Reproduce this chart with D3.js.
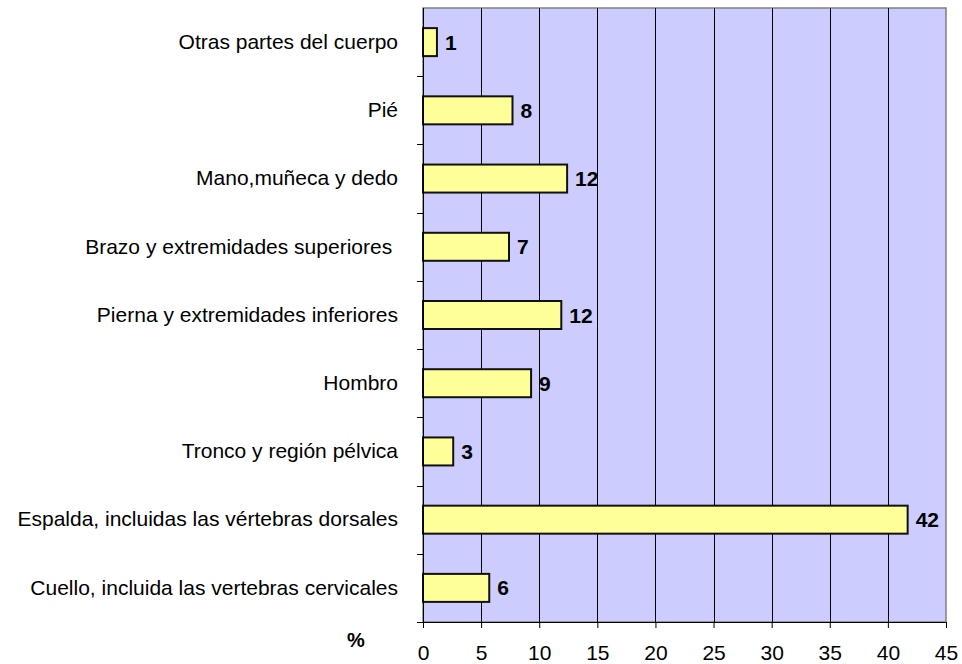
<!DOCTYPE html>
<html>
<head>
<meta charset="utf-8">
<script src="https://cdn.jsdelivr.net/npm/d3@7"></script>
<style>
body { margin: 0; background: #fff; }
text { font-family: "Liberation Sans", Arial, sans-serif; }
</style>
</head>
<body>
<svg></svg>
<script>
// categories bottom to top as in the source sheet
var categories = [
	"Cuello, incluida las vertebras cervicales",
	"Espalda, incluidas las vértebras dorsales",
	"Tronco y región pélvica",
	"Hombro",
	"Pierna y extremidades inferiores",
	"Brazo y extremidades superiores ",
	"Mano,muñeca y dedo",
	"Pié",
	"Otras partes del cuerpo"
];
var values = [5.7, 41.7, 2.6, 9.3, 11.9, 7.4, 12.4, 7.7, 1.2];
var valueLabels = ["6", "42", "3", "9", "12", "7", "12", "8", "1"];
var xTicks = [0, 5, 10, 15, 20, 25, 30, 35, 40, 45];

var svgWidth = 962;
var svgHeight = 664;
var plotLeft = 423, plotRight = 946, plotTop = 8, plotBottom = 622;
var fontSize = 21;

var svg = d3.select('svg')
	.attr("width", svgWidth)
	.attr("height", svgHeight);

var xScale = d3.scaleLinear()
	.domain([0, 45])
	.range([plotLeft, plotRight]);

var yScale = d3.scaleBand()
	.domain(categories.slice().reverse())
	.range([plotTop, plotBottom]);

// plot background
svg.append("rect")
	.attr("x", plotLeft)
	.attr("y", plotTop)
	.attr("width", plotRight - plotLeft)
	.attr("height", plotBottom - plotTop)
	.attr("fill", "#ccccff")
	.attr("stroke", "#808080")
	.attr("stroke-width", 1.5);

// gridlines
svg.selectAll("line.grid")
	.data(xTicks.slice(1, -1))
	.enter()
	.append("line")
	.attr("class", "grid")
	.attr("x1", function(d) { return Math.round(xScale(d)) + 0.5; })
	.attr("x2", function(d) { return Math.round(xScale(d)) + 0.5; })
	.attr("y1", plotTop)
	.attr("y2", plotBottom)
	.attr("stroke", "#000")
	.attr("stroke-width", 1);

// bars
var barH = 28;
svg.selectAll("rect.bar")
	.data(values)
	.enter()
	.append("rect")
	.attr("class", "bar")
	.attr("x", xScale(0))
	.attr("y", function(d, i) {
		return yScale(categories[i]) + yScale.bandwidth() / 2 - barH / 2;
	})
	.attr("width", function(d) { return xScale(d) - xScale(0); })
	.attr("height", barH)
	.attr("fill", "#ffff99")
	.attr("stroke", "#111")
	.attr("stroke-width", 2);

// value labels
svg.selectAll("text.val")
	.data(values)
	.enter()
	.append("text")
	.attr("class", "val")
	.attr("x", function(d) { return xScale(d) + 8; })
	.attr("y", function(d, i) {
		return yScale(categories[i]) + yScale.bandwidth() / 2;
	})
	.attr("dy", "0.36em")
	.attr("font-size", fontSize)
	.attr("font-weight", "bold")
	.text(function(d, i) { return valueLabels[i]; });

// x axis
var x_axis = d3.axisBottom(xScale)
	.tickValues(xTicks)
	.tickSize(6)
	.tickPadding(17);

var gx = svg.append("g")
	.attr("transform", "translate(0," + plotBottom + ")")
	.call(x_axis);
gx.select(".domain").attr("d", "M" + (plotLeft - 6) + ",0.5H" + plotRight);
gx.selectAll("text").attr("font-size", fontSize).attr("fill", "#000");

// y axis
var y_axis = d3.axisLeft(yScale)
	.tickSize(0)
	.tickPadding(25);

var gy = svg.append("g")
	.attr("transform", "translate(" + plotLeft + ",0)")
	.call(y_axis);
gy.select(".domain").remove();
gy.selectAll("text")
	.attr("font-size", fontSize)
	.attr("fill", "#000")
	.style("white-space", "pre");

// category separators
svg.selectAll("line.sep")
	.data(categories.slice(1))
	.enter()
	.append("line")
	.attr("class", "sep")
	.attr("x1", plotLeft - 6)
	.attr("x2", plotLeft)
	.attr("y1", function(d) { return Math.round(yScale(d) + yScale.bandwidth()) + 0.5; })
	.attr("y2", function(d) { return Math.round(yScale(d) + yScale.bandwidth()) + 0.5; })
	.attr("stroke", "#000");

svg.append("line")
	.attr("x1", plotLeft + 0.5)
	.attr("x2", plotLeft + 0.5)
	.attr("y1", plotTop)
	.attr("y2", plotBottom)
	.attr("stroke", "#000");

svg.append("text")
	.attr("x", 356)
	.attr("y", 647)
	.attr("text-anchor", "middle")
	.attr("font-size", 20)
	.attr("font-weight", "bold")
	.text("%");
</script>
</body>
</html>
